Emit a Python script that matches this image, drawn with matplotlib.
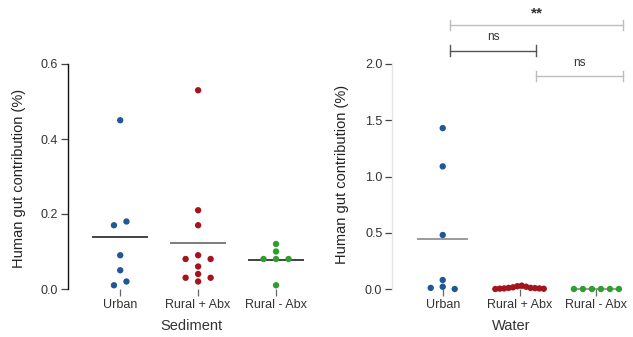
import numpy as np
import matplotlib
matplotlib.use("Agg")
import matplotlib.pyplot as plt

plt.rcParams["font.family"] = ["Liberation Sans", "DejaVu Sans"]

# ---- data -------------------------------------------------------------
groups = ["Urban", "Rural + Abx", "Rural - Abx"]
colors = ["#1f5797", "#a3141c", "#2e9e2e"]

sediment_urban = [0.45, 0.18, 0.17, 0.09, 0.05, 0.02, 0.01]
sediment_rural_abx = [0.53, 0.21, 0.17, 0.09, 0.08, 0.08, 0.06, 0.04, 0.03, 0.03, 0.02]
sediment_rural_noabx = [0.12, 0.10, 0.08, 0.08, 0.08, 0.01]

water_urban = [1.43, 1.09, 0.48, 0.08, 0.02, 0.01, 0.0]
water_rural_abx = [0.03, 0.025, 0.02, 0.015, 0.01, 0.01, 0.008, 0.005, 0.005, 0.003, 0.002, 0.0]
water_rural_noabx = [0.0, 0.0, 0.0, 0.0, 0.0, 0.0]

sediment_ticks = [0.0, 0.2, 0.4, 0.6]
water_ticks = [0.0, 0.5, 1.0, 1.5, 2.0]

# significance tests on the water panel: (label, from-x, to-x, height)
water_sig_labels = ["**", "ns", "ns"]
water_sig_x0 = [0.09, 0.09, 1.22]
water_sig_x1 = [2.35, 1.22, 2.35]
water_sig_y = [2.35, 2.12, 1.89]
water_sig_colors = ["#bdbdbd", "#555555", "#bdbdbd"]


def swarm_columns(y_px, diam):
    """Greedy column layout: points closer than `diam` pixels share no column,
    then each cluster of touching points is centred on the category."""
    y_px = np.asarray(y_px, float)
    n = len(y_px)
    cols = np.zeros(n)
    placed = []
    order = np.argsort(-y_px, kind="stable")
    cand = [0]
    for k in range(1, n + 1):
        cand += [-k, k]
    for i in order:
        for c in cand:
            if all(not (pc == c and abs(py - y_px[i]) < diam) for pc, py in placed):
                break
        cols[i] = c
        placed.append((c, y_px[i]))
    # centre clusters
    srt = np.argsort(y_px, kind="stable")
    clusters, cur = [], [srt[0]]
    for a, b in zip(srt[:-1], srt[1:]):
        if y_px[b] - y_px[a] < diam:
            cur.append(b)
        else:
            clusters.append(cur)
            cur = [b]
    clusters.append(cur)
    for cl in clusters:
        cols[cl] -= cols[cl].mean()
    return cols


W, H = 633, 337
fig = plt.figure(figsize=(W / 100, H / 100), dpi=100)

bottom = (H - 289) / H
height = 225 / H
ax1 = fig.add_axes([68 / W, bottom, 247 / W, height])
ax2 = fig.add_axes([392 / W, bottom, 239 / W, height])


def draw_panel(ax, data, ylim, ticks, xlim, steps_px, diam, mean_colors,
               half_width, xlabel, spine_color):
    ax.set_xlim(*xlim)
    ax.set_ylim(*ylim)
    tr = ax.transData
    px_per_y = tr.transform((0, 1))[1] - tr.transform((0, 0))[1]
    px_per_x = tr.transform((1, 0))[0] - tr.transform((0, 0))[0]
    for i, vals in enumerate(data):
        vals = np.asarray(vals, float)
        cols = swarm_columns(vals * px_per_y, diam)
        xs = i + cols * steps_px[i] / px_per_x
        m = vals.mean()
        ax.plot([i - half_width, i + half_width], [m, m], color=mean_colors[i],
                lw=1.2, zorder=2, solid_capstyle="butt", clip_on=False)
        ax.scatter(xs, vals, s=21, color=colors[i], edgecolors="none",
                   zorder=3, clip_on=False)
    for side in ["top", "right", "bottom"]:
        ax.spines[side].set_visible(False)
    ax.spines["left"].set_color(spine_color)
    ax.spines["left"].set_linewidth(1.0)
    ax.spines["left"].set_bounds(ticks[0], ticks[-1])
    ax.set_yticks(ticks)
    ax.set_yticklabels([f"{t:.1f}" for t in ticks])
    ax.set_xticks(range(len(groups)))
    ax.set_xticklabels(groups)
    ax.tick_params(axis="y", length=5, width=0.9, color="#444444", labelsize=9,
                   labelcolor="#333333", pad=2)
    ax.tick_params(axis="x", length=5, width=0.9, color="#666666", labelsize=9,
                   labelcolor="#333333", pad=2)
    ax.set_xlabel(xlabel, fontsize=10.5, color="#333333", labelpad=6)
    ax.set_ylabel("Human gut contribution (%)", fontsize=10.5, color="#222222")
    ax.patch.set_visible(False)


draw_panel(ax1,
           [sediment_urban, sediment_rural_abx, sediment_rural_noabx],
           (0, 0.6), sediment_ticks, (-0.67, 2.5),
           [12.5, 12.5, 12.5], 7.0,
           ["#222222", "#666666", "#222222"], 0.36, "Sediment", "#111111")
ax1.yaxis.set_label_coords(-0.17, 0.49)

draw_panel(ax2,
           [water_urban, water_rural_abx, water_rural_noabx],
           (0, 2.0), water_ticks, (-0.66, 2.45),
           [12.0, 4.4, 9.0], 6.0,
           ["#8a8a8a", "#8a8a8a", "#8a8a8a"], 0.33, "Water", "#e6e6e6")
ax2.yaxis.set_label_coords(-0.18, 0.51)

# significance brackets above the water panel
cap = 0.045
for lab, x0, x1, y, c in zip(water_sig_labels, water_sig_x0, water_sig_x1,
                             water_sig_y, water_sig_colors):
    ax2.plot([x0, x1], [y, y], color=c, lw=1.0, clip_on=False)
    ax2.plot([x0, x0], [y - cap, y + cap], color=c, lw=1.0, clip_on=False)
    ax2.plot([x1, x1], [y - cap, y + cap], color=c, lw=1.0, clip_on=False)
    bold = lab != "ns"
    ax2.text((x0 + x1) / 2, y + (0.1 if bold else 0.12), lab, ha="center",
             va="center", fontsize=11 if bold else 8.5,
             fontweight="bold" if bold else "normal", color="#333333",
             clip_on=False)

fig.savefig("out.png", dpi=100)
